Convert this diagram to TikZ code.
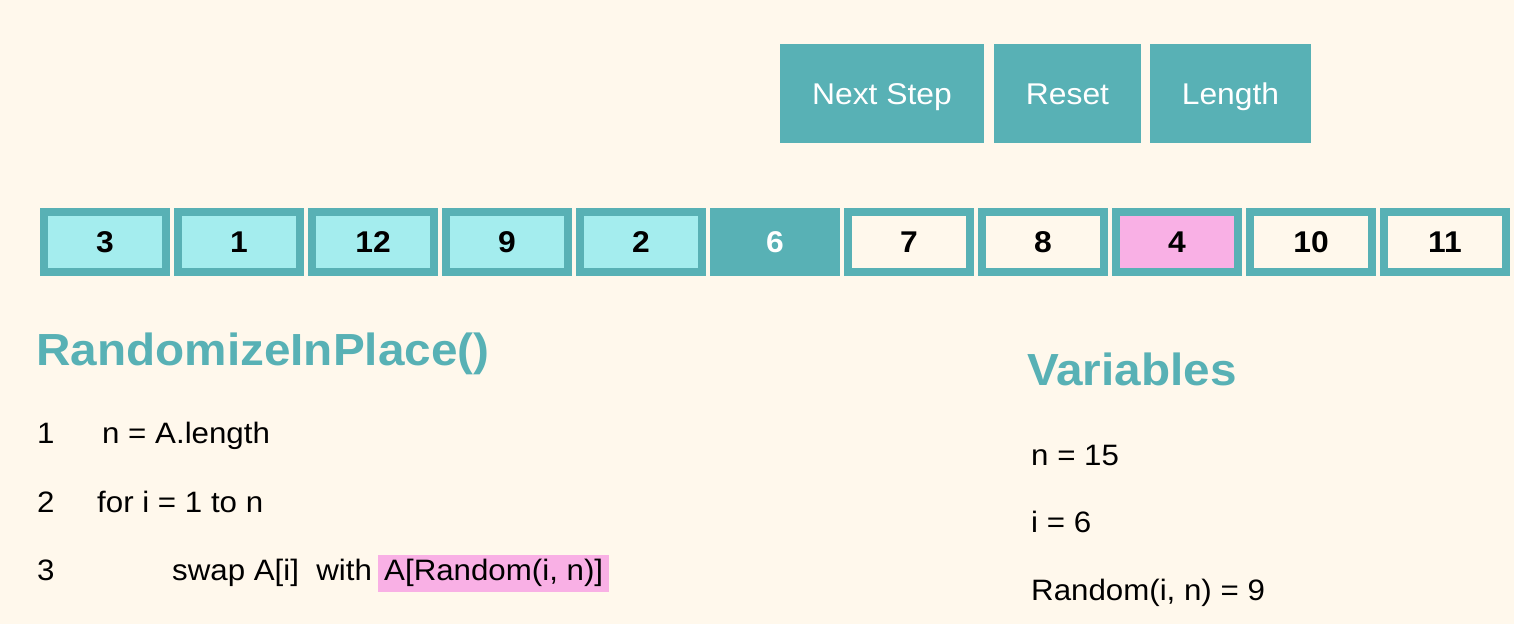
\documentclass[tikz,border=0pt]{standalone}
\usepackage{fontspec}
\setmainfont[FakeStretch=1.06]{Liberation Sans}
\definecolor{bg}{HTML}{FFF8EC}
\definecolor{teal}{HTML}{58B1B5}
\definecolor{cyanl}{HTML}{A4EDEE}
\definecolor{pinkl}{HTML}{F9B0E5}
\tikzset{
  btn/.style={fill=teal, text=white, inner sep=0pt, minimum height=99pt, text height=25pt, text depth=4pt, font=\fontsize{30}{36}\selectfont},
  cell/.style={draw=teal, line width=8pt, minimum width=122pt, minimum height=60pt, inner sep=0pt, font=\fontsize{30}{36}\selectfont\bfseries},
  ttl/.style={anchor=base west, inner sep=0pt, text=teal, font=\fontsize{45}{52}\selectfont\bfseries},
  txt/.style={anchor=base west, inner sep=0pt, font=\fontsize{29.5}{34}\selectfont},
  hl/.style={anchor=base west, fill=pinkl, inner xsep=6pt, inner ysep=3pt, text height=22pt, text depth=9pt, font=\fontsize{29.5}{34}\selectfont}
}
\begin{document}
\begin{tikzpicture}[x=1pt,y=-1pt]
\fill[bg] (0,0) rectangle (1514,624);
\useasboundingbox (0,0) rectangle (1514,624);
% buttons
\node[btn, minimum width=204pt] (next) at (882,93.5) {Next Step};
\node[btn, minimum width=147pt] (reset) at (1067.5,93.5) {Reset};
\node[btn, minimum width=161pt] (len) at (1230.5,93.5) {Length};
% array cells
\node[cell, fill=cyanl] (c1) at (105,242) {3};
\node[cell, fill=cyanl] (c2) at (239,242) {1};
\node[cell, fill=cyanl] (c3) at (373,242) {12};
\node[cell, fill=cyanl] (c4) at (507,242) {9};
\node[cell, fill=cyanl] (c5) at (641,242) {2};
\node[cell, fill=teal, text=white] (c6) at (775,242) {6};
\node[cell, fill=bg] (c7) at (909,242) {7};
\node[cell, fill=bg] (c8) at (1043,242) {8};
\node[cell, fill=pinkl] (c9) at (1177,242) {4};
\node[cell, fill=bg] (c10) at (1311,242) {10};
\node[cell, fill=bg] (c11) at (1445,242) {11};
% pseudocode
\node[ttl] (title) at (36,365) {RandomizeInPlace()};
\node[txt] (l1) at (37,443) {1};
\node[txt] (code1) at (102,443) {n = A.length};
\node[txt] (l2) at (37,512) {2};
\node[txt] (code2) at (97,512) {for i = 1 to n};
\node[txt] (l3) at (37,580) {3};
\node[txt] (code3) at (172,580) {swap A[i]\ \ with};
\node[hl] (hlt) at (378,580) {A[Random(i, n)]};
% variables
\node[ttl] (vars) at (1027,385) {Variables};
\node[txt] (v1) at (1031,465) {n = 15};
\node[txt] (v2) at (1031,532) {i = 6};
\node[txt] (v3) at (1031,600) {Random(i, n) = 9};
\end{tikzpicture}
\end{document}
